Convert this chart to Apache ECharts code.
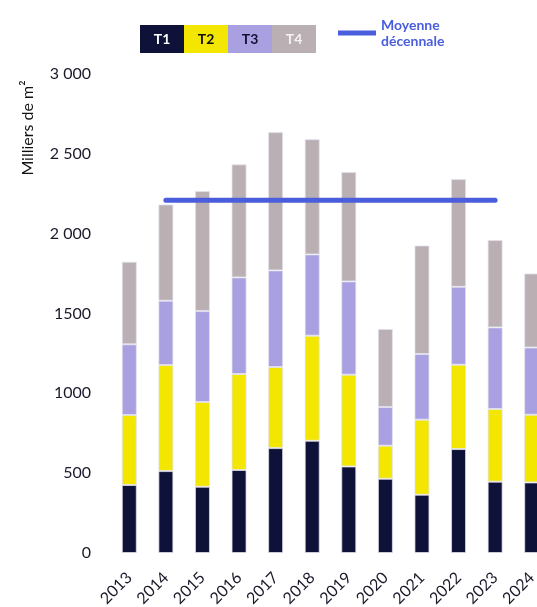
<!DOCTYPE html>
<html>
<head>
<meta charset="utf-8">
<script src="https://cdn.jsdelivr.net/npm/echarts@6/dist/echarts.min.js"></script>
<style>
  html, body { margin: 0; padding: 0; background: #ffffff; }
  #chart { width: 537px; height: 607px; }
</style>
</head>
<body>
<div id="chart"></div>
<script>
// Annual volumes by quarter (thousands of m²)
const years = ['2013', '2014', '2015', '2016', '2017', '2018', '2019', '2020', '2021', '2022', '2023', '2024'];
const t1 = [426, 513, 415, 520, 657, 703, 542, 465, 365, 651, 447, 442];
const t2 = [438, 664, 531, 601, 508, 658, 575, 207, 470, 528, 455, 424];
const t3 = [443, 403, 569, 605, 605, 509, 584, 242, 411, 488, 511, 421];
const t4 = [517, 603, 752, 708, 866, 722, 685, 489, 680, 675, 547, 464];

// Ten-year average, drawn across 2014–2023
const moyenneDecennale = 2210;
const moyenneYears = ['2014', '2015', '2016', '2017', '2018', '2019', '2020', '2021', '2022', '2023'];

// Y axis tick labels
const yTickLabels = { 0: '0', 500: '500', 1000: '1000', 1500: '1500', 2000: '2 000', 2500: '2 500', 3000: '3 000' };

const FONT = 'Lato';
const quarterNames = ['T1', 'T2', 'T3', 'T4'];
const quarterColors = ['#0f1238', '#f3e600', '#a8a0e0', '#bab0b4'];
const quarterText = ['#ffffff', '#111111', '#111133', '#f4f2f3'];
const quarterValues = [t1, t2, t3, t4];

const richLegend = {};
quarterNames.forEach((n, i) => {
  richLegend[n] = {
    width: 44, height: 28, lineHeight: 28, align: 'center',
    backgroundColor: quarterColors[i], color: quarterText[i],
    fontFamily: FONT, fontWeight: 'bold', fontSize: 14
  };
});

const barSeries = quarterNames.map((n, i) => ({
  name: n,
  type: 'bar',
  stack: 'total',
  barWidth: 15,
  itemStyle: { color: quarterColors[i], borderColor: 'rgba(225,224,238,0.75)', borderWidth: 1 },
  data: quarterValues[i]
}));

const lineSeries = {
  name: 'Moyenne décennale',
  type: 'line',
  symbol: 'none',
  z: 5,
  lineStyle: { color: '#4a5ddd', width: 5, cap: 'round' },
  itemStyle: { color: '#4a5ddd' },
  data: years.map(y => moyenneYears.includes(y) ? moyenneDecennale : null)
};

const chart = echarts.init(document.getElementById('chart'), null, { renderer: 'canvas' });
chart.setOption({
  animation: false,
  backgroundColor: '#ffffff',
  textStyle: { fontFamily: FONT },
  grid: { left: 111, top: 74, bottom: 54, width: 439, containLabel: false, outerBoundsMode: 'none' },
  legend: [
    {
      data: quarterNames,
      left: 129, top: 20,
      orient: 'horizontal',
      itemWidth: 0, itemHeight: 0, itemGap: -6,
      icon: 'rect',
      formatter: name => '{' + name + '|' + name + '}',
      textStyle: { rich: richLegend },
      selectedMode: false
    },
    {
      data: ['Moyenne décennale'],
      left: 333, top: 12,
      icon: 'rect',
      itemWidth: 38, itemHeight: 5,
      formatter: () => 'Moyenne\ndécennale',
      textStyle: { color: '#4a5ddd', fontFamily: FONT, fontWeight: 'bold', fontSize: 14, lineHeight: 16 },
      selectedMode: false
    }
  ],
  graphic: [{
    type: 'text',
    x: 28, y: 128,
    rotation: Math.PI / 2,
    style: {
      text: 'Milliers de m²',
      fill: '#111111',
      font: '16px ' + FONT,
      textAlign: 'center',
      textVerticalAlign: 'middle'
    }
  }],
  xAxis: {
    type: 'category',
    data: years,
    axisLine: { show: false },
    axisTick: { show: false },
    axisLabel: { rotate: 45, margin: 22, fontSize: 16, color: '#1a1a2a', fontFamily: FONT, interval: 0 }
  },
  yAxis: {
    type: 'value',
    min: 0, max: 3000, interval: 500,
    axisLine: { show: false },
    axisTick: { show: false },
    splitLine: { show: false },
    axisLabel: { margin: 20, fontSize: 16, color: '#1a1a2a', fontFamily: FONT, formatter: v => yTickLabels[v] }
  },
  series: [...barSeries, lineSeries]
});
</script>
</body>
</html>
